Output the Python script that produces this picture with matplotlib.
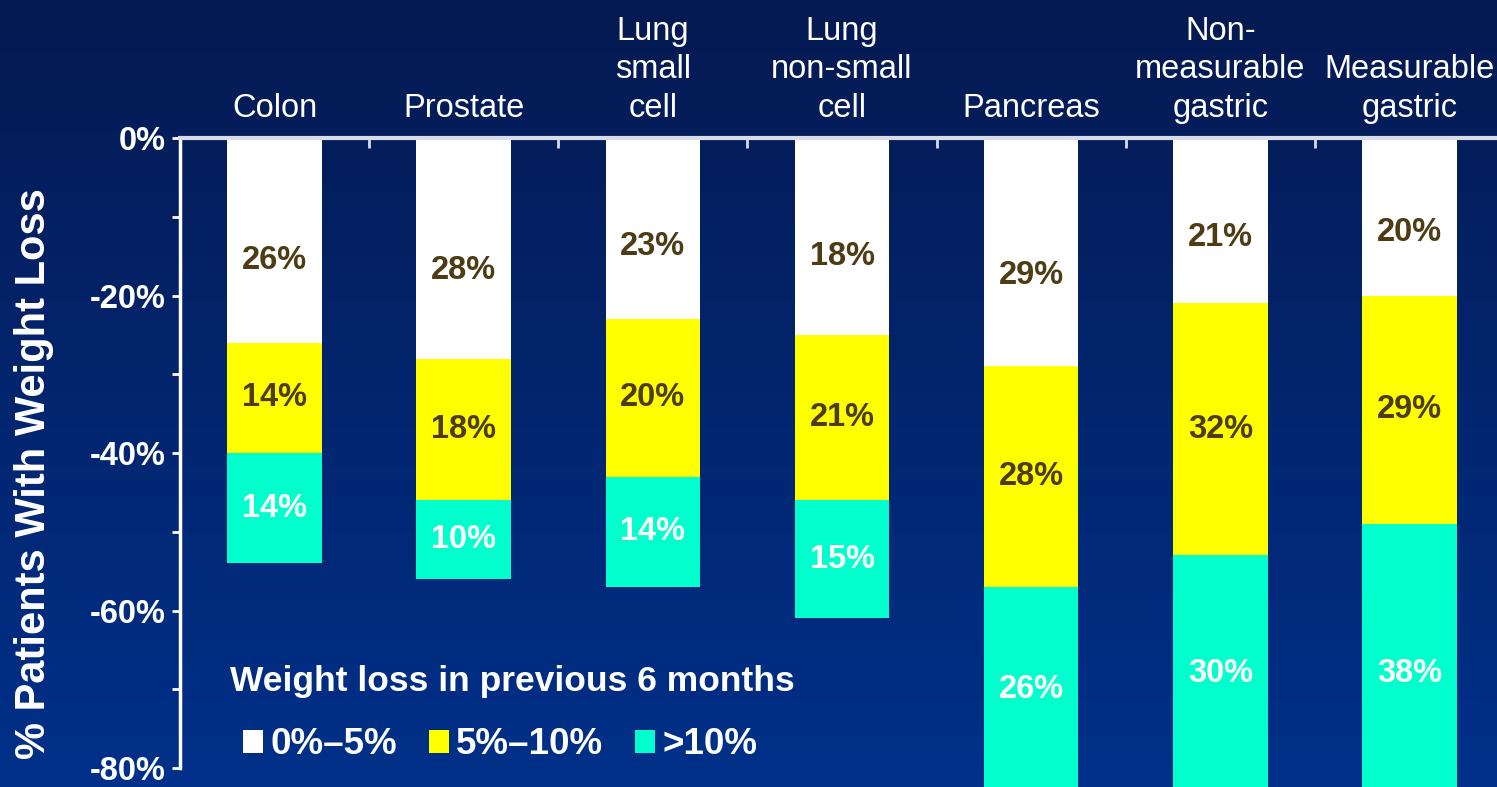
import numpy as np
import matplotlib
matplotlib.use("Agg")
import matplotlib.pyplot as plt
from matplotlib.patches import Patch

plt.rcParams['font.family'] = ['Liberation Sans', 'DejaVu Sans']

# categories and values (percent of patients)
categories = ['Colon', 'Prostate', 'Lung\nsmall\ncell', 'Lung\nnon-small\ncell',
              'Pancreas', 'Non-\nmeasurable\ngastric', 'Measurable\ngastric']
# white segment as drawn (lung non-small cell bar is drawn taller than its label)
low_drawn = [26, 28, 23, 25, 29, 21, 20]
low_pct = [26, 28, 23, 18, 29, 21, 20]
mid_pct = [14, 18, 20, 21, 28, 32, 29]
high_pct = [14, 10, 14, 15, 26, 30, 38]
legend_labels = ['0%\u20135%', '5%\u201310%', '>10%']
legend_title = 'Weight loss in previous 6 months'
ytick_vals = [0, -20, -40, -60, -80]
ytick_labels = ['0%', '-20%', '-40%', '-60%', '-80%']

c_low = '#ffffff'
c_mid = '#ffff00'
c_high = '#00ffcc'
c_dark = '#4d3c14'

fig = plt.figure(figsize=(14.97, 7.87), dpi=100)

# gradient background
bg = fig.add_axes([0, 0, 1, 1], zorder=-1)
top = np.array([0.02, 0.10, 0.32])
bot = np.array([0.0, 0.19, 0.54])
t = np.linspace(0, 1, 256)[:, None]
grad = top[None, :] * (1 - t) + bot[None, :] * t
bg.imshow(grad[:, None, :], aspect='auto', extent=[0, 1, 0, 1])
bg.axis('off')

ax = fig.add_axes([180 / 1497, 0, 1324 / 1497, 1 - 138 / 787])
ax.set_facecolor('none')

x = np.arange(len(categories))
low = np.array(low_drawn)
mid = np.array(mid_pct)
high = np.array(high_pct)

w = 0.5
ax.bar(x, -low, width=w, color=c_low, label=legend_labels[0])
ax.bar(x, -mid, bottom=-low, width=w, color=c_mid, label=legend_labels[1])
ax.bar(x, -high, bottom=-(low + mid), width=w, color=c_high, label=legend_labels[2])

lab_kw = dict(ha='center', va='center', fontsize=23.5, fontweight='bold')
for i in range(len(x)):
    ax.text(x[i], -low[i] * 0.6, f'{low_pct[i]}%', color=c_dark, **lab_kw)
    ax.text(x[i], -(low[i] + mid[i] / 2), f'{mid_pct[i]}%', color=c_dark, **lab_kw)
    ax.text(x[i], -(low[i] + mid[i] + high[i] / 2), f'{high_pct[i]}%',
            color='white', **lab_kw)

ax.set_xlim(-0.5, 6.5)
ax.set_ylim(-82.4, 0)

# y axis
ax.set_yticks(ytick_vals)
ax.set_yticklabels(ytick_labels)
ax.set_yticks([-10, -30, -50, -70], minor=True)
ax.tick_params(axis='y', which='both', direction='out', length=6, width=2,
               color='white', labelcolor='white', labelsize=23.5, pad=4)
for lbl in ax.get_yticklabels():
    lbl.set_fontweight('bold')

# x axis on top
ax.xaxis.tick_top()
ax.set_xticks(x)
ax.set_xticklabels(categories, color='white', fontsize=23.5, linespacing=1.32)
ax.set_xticks(np.arange(0.5, 6.5, 1.0), minor=True)
ax.tick_params(axis='x', which='major', length=0, pad=10)
ax.tick_params(axis='x', which='minor', direction='in', length=7, width=2,
               color='#d8dce8', top=True, bottom=False)

ax.spines['right'].set_visible(False)
ax.spines['bottom'].set_visible(False)
ax.spines['left'].set_color('white')
ax.spines['left'].set_linewidth(2.5)
ax.spines['left'].set_bounds(-80, 0)
ax.spines['top'].set_color('#d8dce8')
ax.spines['top'].set_linewidth(3)

fig.text(34 / 1497, 1 - 474 / 787, '% Patients With Weight Loss', rotation=90,
         ha='center', va='center', color='white', fontsize=30, fontweight='bold')

# legend title as separate text, entries as a legend
ax.text((230 - 180) / 1324, (787 - 681) / 649, legend_title, transform=ax.transAxes,
        ha='left', va='center', color='white', fontsize=25.5, fontweight='bold')

handles = [Patch(facecolor=c, edgecolor='none') for c in (c_low, c_mid, c_high)]
leg = ax.legend(handles, legend_labels, loc='center left',
                bbox_to_anchor=((243 - 180) / 1324, (787 - 745) / 649), ncol=3,
                frameon=False, borderpad=0, borderaxespad=0, handlelength=0.55,
                handleheight=0.62, handletextpad=0.2, columnspacing=0.85,
                prop=dict(size=26.5, weight='bold'))
for txt in leg.get_texts():
    txt.set_color('white')

fig.savefig('out.png', dpi=100)
